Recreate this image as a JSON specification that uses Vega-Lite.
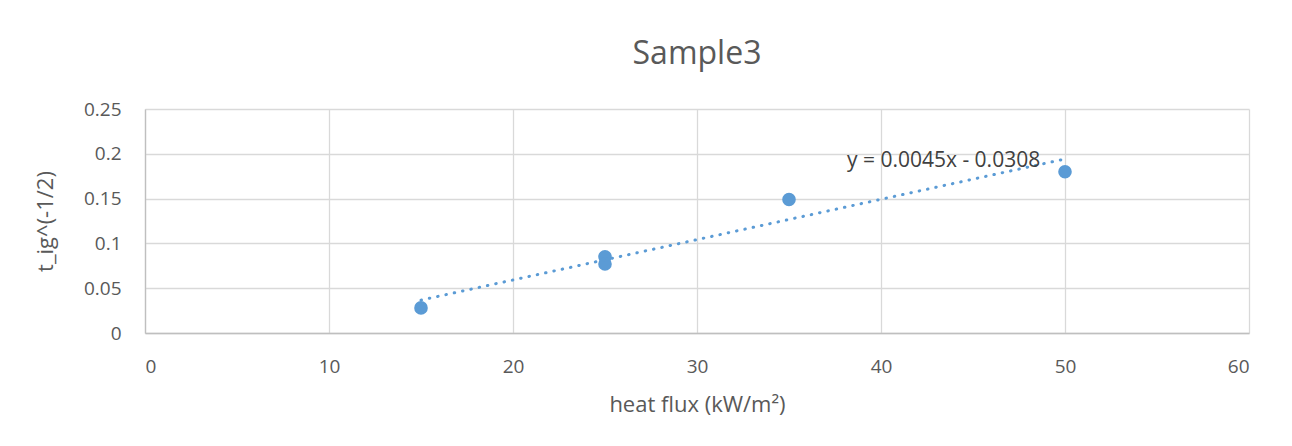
{
  "$schema": "https://vega.github.io/schema/vega-lite/v6.json",
  "autosize": {"type": "none"},
  "width": 1104,
  "height": 224,
  "padding": {"left": 145, "top": 109, "right": 43, "bottom": 113},
  "background": "white",
  "title": {"text": "Sample3", "fontSize": 32, "font": "Open Sans", "fontWeight": "normal", "color": "#595959", "offset": 29, "anchor": "middle"},
  "config": {
    "view": {"stroke": null},
    "axis": {"labelFont": "Open Sans", "titleFont": "Open Sans", "labelFontSize": 19, "titleFontSize": 22, "labelColor": "#595959", "titleColor": "#595959", "titleFontWeight": "normal", "gridColor": "#d9d9d9", "gridWidth": 1.3, "domainColor": "#bfbfbf", "domainWidth": 1.3, "ticks": false}
  },
  "datasets": {
    "pts": [
      {"flux": 15, "t": 0.028},
      {"flux": 25, "t": 0.085},
      {"flux": 25, "t": 0.077},
      {"flux": 35, "t": 0.149},
      {"flux": 50, "t": 0.180}
    ],
    "trend": [
      {"flux": 15, "t": 0.0367},
      {"flux": 50, "t": 0.1942}
    ],
    "eq": [
      {"flux": 43.4, "t": 0.192, "label": "y = 0.0045x - 0.0308"}
    ]
  },
  "layer": [
    {
      "data": {"name": "pts"},
      "mark": {"type": "point", "filled": true, "size": 185, "color": "#5b9bd5", "opacity": 1},
      "encoding": {
        "x": {"field": "flux", "type": "quantitative", "scale": {"domain": [0, 60], "nice": false}, "axis": {"values": [0, 10, 20, 30, 40, 50, 60], "title": "heat flux (kW/m²)", "labelPadding": 24, "titlePadding": 18}},
        "y": {"field": "t", "type": "quantitative", "scale": {"domain": [0, 0.25], "nice": false}, "axis": {"values": [0, 0.05, 0.1, 0.15, 0.2, 0.25], "format": ".2~f", "title": "t_ig^(-1/2)", "labelPadding": 24, "titlePadding": 26, "domain": true}}
      }
    },
    {
      "data": {"name": "trend"},
      "mark": {"type": "line", "color": "#5b9bd5", "strokeWidth": 3, "strokeDash": [0.5, 8], "strokeCap": "round"},
      "encoding": {
        "x": {"field": "flux", "type": "quantitative"},
        "y": {"field": "t", "type": "quantitative"}
      }
    },
    {
      "data": {"name": "eq"},
      "mark": {"type": "text", "font": "Open Sans", "fontSize": 21, "color": "#404040", "align": "center", "baseline": "middle"},
      "encoding": {
        "x": {"field": "flux", "type": "quantitative"},
        "y": {"field": "t", "type": "quantitative"},
        "text": {"field": "label"}
      }
    }
  ]
}
